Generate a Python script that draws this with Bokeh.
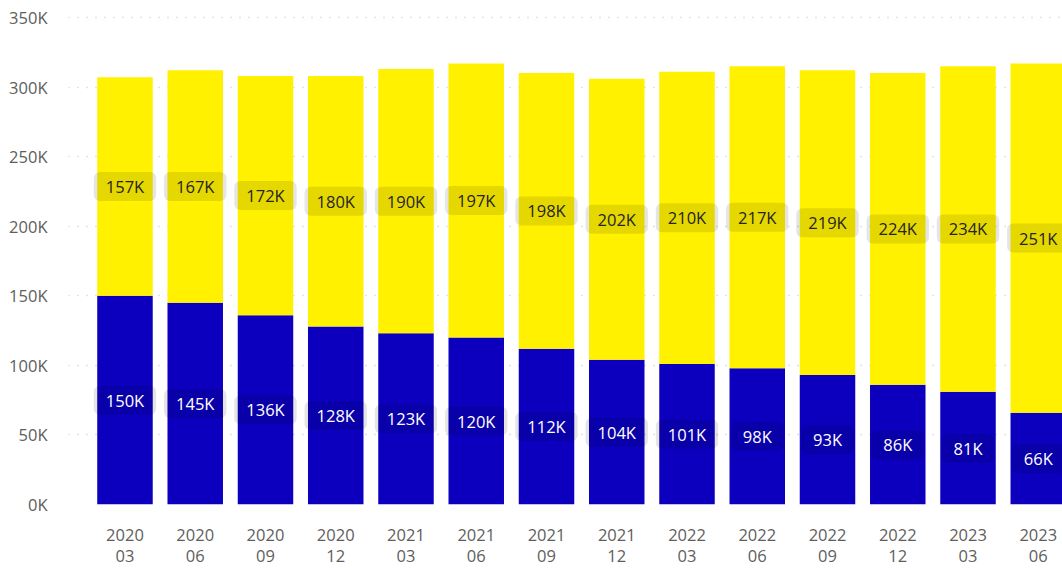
from bokeh.plotting import figure
from bokeh.models import Range1d, FixedTicker, ColumnDataSource
from bokeh.core.properties import value
from bokeh.embed import file_html
from bokeh.resources import INLINE

years = ["2020", "2020", "2020", "2020", "2021", "2021", "2021", "2021",
         "2022", "2022", "2022", "2022", "2023", "2023"]
months = ["03", "06", "09", "12", "03", "06", "09", "12",
          "03", "06", "09", "12", "03", "06"]
blue_k = [150, 145, 136, 128, 123, 120, 112, 104, 101, 98, 93, 86, 81, 66]
yellow_k = [157, 167, 172, 180, 190, 197, 198, 202, 210, 217, 219, 224, 234, 251]
y_ticks_k = [0, 50, 100, 150, 200, 250, 300, 350]

BLUE = "#0C00BE"
YELLOW = "#FFF100"
FONT = "Open Sans"

idx = list(range(len(years)))
blue = [v * 1000 for v in blue_k]
yellow = [v * 1000 for v in yellow_k]
total = [b + y for b, y in zip(blue, yellow)]
src = ColumnDataSource(dict(
    x=idx, blue=blue, total=total,
    blue_mid=[b / 2 for b in blue],
    yellow_mid=[b + y / 2 for b, y in zip(blue, yellow)],
    blue_lbl=[f"{v}K" for v in blue_k],
    yellow_lbl=[f"{v}K" for v in yellow_k],
))

p = figure(width=1062, height=569, output_backend="svg", toolbar_location=None,
           x_range=Range1d(-0.804, 13.345), y_range=Range1d(0, 355000),
           min_border_left=68, min_border_right=0, min_border_top=10,
           min_border_bottom=64)
p.outline_line_color = None
p.background_fill_color = "white"
p.border_fill_color = "white"

p.vbar(x="x", bottom=0, top="blue", width=0.79, source=src,
       fill_color=BLUE, line_color=None)
p.vbar(x="x", bottom="blue", top="total", width=0.79, source=src,
       fill_color=YELLOW, line_color=None)

common = dict(text_align="center", text_baseline="middle",
              text_font=value(FONT), text_font_size="16.5px",
              background_fill_color="black", background_fill_alpha=0.1,
              border_radius=6, padding=(12, 3))
p.text(x="x", y="blue_mid", text="blue_lbl", source=src,
       text_color="white", **common)
p.text(x="x", y="yellow_mid", text="yellow_lbl", source=src,
       text_color="#252423", **common)

# axes
p.xaxis.ticker = FixedTicker(ticks=idx)
p.xaxis.major_label_overrides = {i: f"{years[i]}\n{months[i]}" for i in idx}
p.xaxis.axis_line_color = None
p.xaxis.major_tick_line_color = None
p.xaxis.minor_tick_line_color = None
p.xaxis.major_label_text_font = FONT
p.xaxis.major_label_text_font_size = "16.5px"
p.xaxis.major_label_text_color = "#605E5C"
p.xaxis.major_label_standoff = 12
p.xaxis.major_label_text_line_height = 0.93

p.yaxis.ticker = FixedTicker(ticks=[v * 1000 for v in y_ticks_k])
p.yaxis.major_label_overrides = {v * 1000: f"{v}K" for v in y_ticks_k}
p.yaxis.axis_line_color = None
p.yaxis.major_tick_line_color = None
p.yaxis.minor_tick_line_color = None
p.yaxis.major_label_text_font = FONT
p.yaxis.major_label_text_font_size = "16.5px"
p.yaxis.major_label_text_color = "#605E5C"
p.yaxis.major_label_standoff = 15

p.xgrid.grid_line_color = None
p.ygrid.grid_line_color = "#C8C6C4"
p.ygrid.grid_line_dash = "1 8"
p.ygrid.grid_line_width = 1.5

open("out.html", "w").write(file_html(p, INLINE))
